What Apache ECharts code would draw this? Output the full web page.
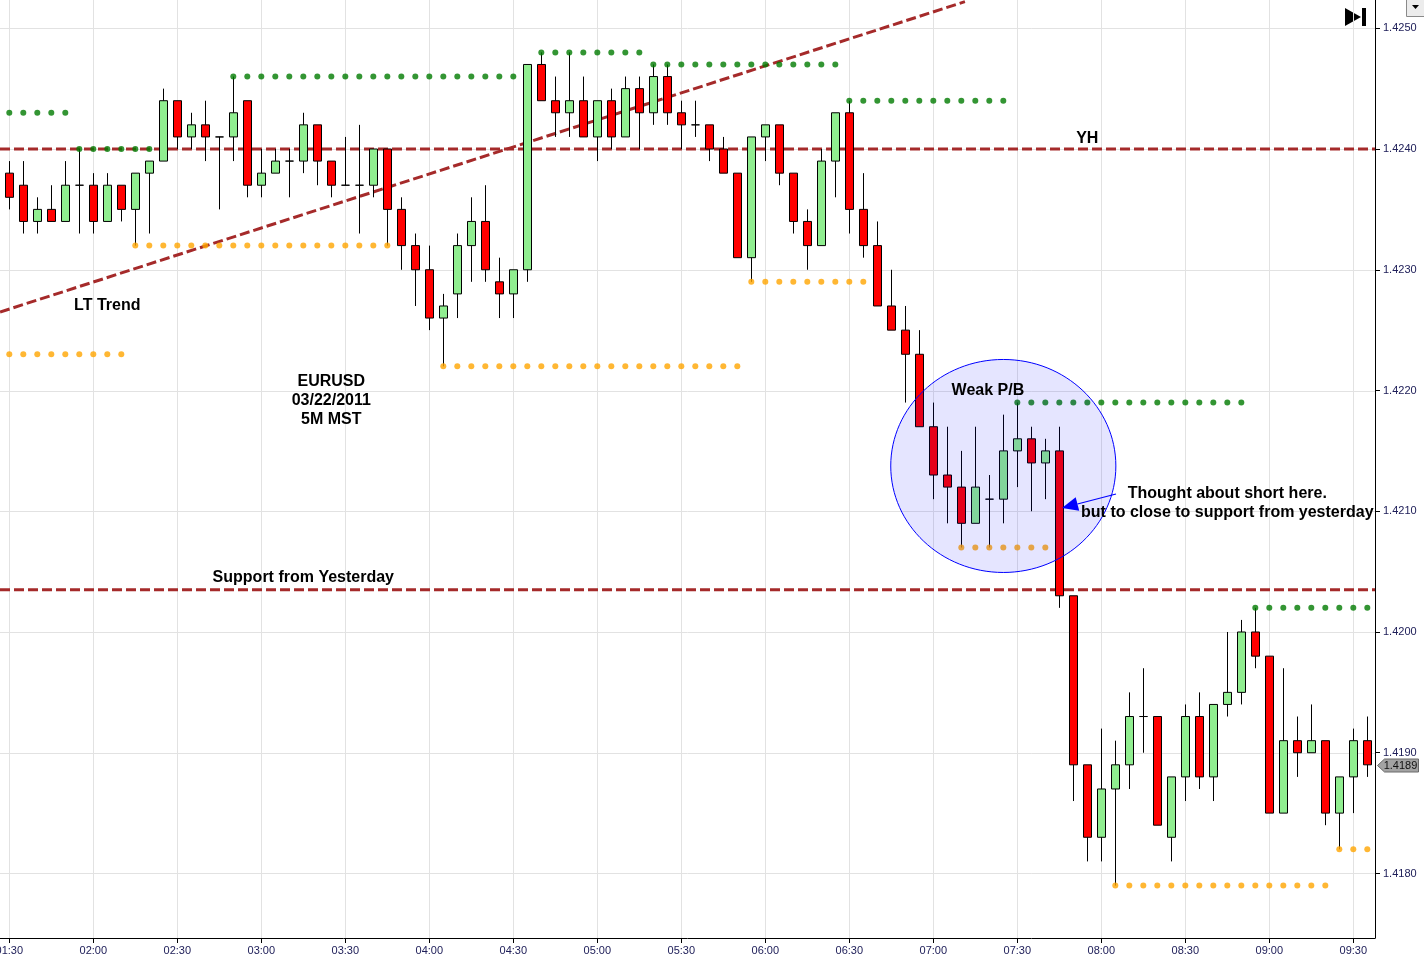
<!DOCTYPE html>
<html><head><meta charset="utf-8">
<script src="https://cdn.jsdelivr.net/npm/echarts@6/dist/echarts.min.js"></script>
<style>html,body{margin:0;padding:0;background:#fff;overflow:hidden}#c{width:1424px;height:960px}</style>
</head><body><div id="c"></div>
<script>
const N = null;
const timeLabels = ['01:30','02:00','02:30','03:00','03:30','04:00','04:30','05:00','05:30','06:00','06:30','07:00','07:30','08:00','08:30','09:00','09:30'];
const timeLabelIndex = [0,6,12,18,24,30,36,42,48,54,60,66,72,78,84,90,96];
const priceTicks = [1.4180,1.4190,1.4200,1.4210,1.4220,1.4230,1.4240,1.4250];

const opens = [
1.4238,1.4237,1.4234,1.4235,1.4234,1.4237,1.4237,1.4234,1.4237,1.4235,
1.4238,1.4239,1.4244,1.4241,1.4242,1.4241,1.4241,1.4244,1.4237,1.4238,
1.4239,1.4239,1.4242,1.4239,1.4237,1.4237,1.4237,1.4240,1.4235,1.4232,
1.4230,1.4226,1.4228,1.4232,1.4234,1.4229,1.4228,1.4230,1.4247,1.4244,
1.4243,1.4244,1.4241,1.4244,1.4241,1.4245,1.4243,1.4246,1.4243,1.4242,
1.4242,1.4240,1.4238,1.4231,1.4241,1.4242,1.4238,1.4234,1.4232,1.4239,
1.4243,1.4235,1.4232,1.4227,1.4225,1.4223,1.4217,1.4213,1.4212,1.4209,
1.4211,1.4211,1.4215,1.4216,1.4214,1.4215,1.4203,1.4189,1.4183,1.4187,
1.4189,1.4193,1.4193,1.4183,1.4188,1.4193,1.4188,1.4194,1.4195,1.4200,
1.4198,1.4185,1.4191,1.4190,1.4191,1.4185,1.4188,1.4191];
const closes = [
1.4236,1.4234,1.4235,1.4234,1.4237,1.4237,1.4234,1.4237,1.4235,1.4238,
1.4239,1.4244,1.4241,1.4242,1.4241,1.4241,1.4243,1.4237,1.4238,1.4239,
1.4239,1.4242,1.4239,1.4237,1.4237,1.4237,1.4240,1.4235,1.4232,1.4230,
1.4226,1.4227,1.4232,1.4234,1.4230,1.4228,1.4230,1.4247,1.4244,1.4243,
1.4244,1.4241,1.4244,1.4241,1.4245,1.4243,1.4246,1.4243,1.4242,1.4242,
1.4240,1.4238,1.4231,1.4241,1.4242,1.4238,1.4234,1.4232,1.4239,1.4243,
1.4235,1.4232,1.4227,1.4225,1.4223,1.4217,1.4213,1.4212,1.4209,1.4212,
1.4211,1.4215,1.4216,1.4214,1.4215,1.4203,1.4189,1.4183,1.4187,1.4189,
1.4193,1.4193,1.4184,1.4188,1.4193,1.4188,1.4194,1.4195,1.4200,1.4198,
1.4185,1.4191,1.4190,1.4191,1.4185,1.4188,1.4191,1.4189];
const highs = [
1.4239,1.4239,1.4236,1.4237,1.4239,1.4240,1.4238,1.4238,1.4237,1.4238,
1.4239,1.4245,1.4244,1.4243,1.4244,1.4241,1.4246,1.4244,1.4240,1.4240,
1.4240,1.4243,1.4242,1.4239,1.4241,1.4242,1.4240,1.4240,1.4236,1.4233,
1.4232,1.4228,1.4233,1.4236,1.4237,1.4231,1.4230,1.4247,1.4248,1.4246,
1.4248,1.4246,1.4244,1.4245,1.4246,1.4246,1.4247,1.4247,1.4244,1.4244,
1.4242,1.4241,1.4238,1.4241,1.4242,1.4242,1.4238,1.4235,1.4240,1.4243,
1.4244,1.4238,1.4234,1.4230,1.4227,1.4225,1.4219,1.4217,1.4215,1.4217,
1.4213,1.4218,1.4219,1.4217,1.4216,1.4217,1.4203,1.4189,1.4192,1.4191,
1.4195,1.4197,1.4193,1.4188,1.4194,1.4195,1.4194,1.4200,1.4201,1.4202,
1.4198,1.4197,1.4193,1.4194,1.4191,1.4188,1.4192,1.4193];
const lows = [
1.4235,1.4233,1.4233,1.4234,1.4234,1.4233,1.4233,1.4234,1.4234,1.4232,
1.4233,1.4239,1.4240,1.4240,1.4239,1.4235,1.4239,1.4236,1.4236,1.4238,
1.4236,1.4238,1.4237,1.4236,1.4237,1.4233,1.4236,1.4232,1.4230,1.4227,
1.4225,1.4222,1.4226,1.4229,1.4229,1.4226,1.4226,1.4229,1.4244,1.4241,
1.4241,1.4241,1.4239,1.4240,1.4241,1.4240,1.4242,1.4242,1.4240,1.4241,
1.4239,1.4238,1.4231,1.4229,1.4239,1.4237,1.4233,1.4230,1.4232,1.4236,
1.4233,1.4231,1.4227,1.4225,1.4219,1.4217,1.4211,1.4209,1.4207,1.4209,
1.4207,1.4209,1.4212,1.4210,1.4211,1.4202,1.4186,1.4181,1.4181,1.4179,
1.4187,1.4190,1.4184,1.4181,1.4186,1.4187,1.4186,1.4193,1.4194,1.4197,
1.4185,1.4185,1.4188,1.4190,1.4184,1.4182,1.4185,1.4188];

// swing-high (green) and swing-low (orange) dotted levels, one value per candle
const resistance = [
1.4243,1.4243,1.4243,1.4243,1.4243,
1.4240,1.4240,1.4240,1.4240,1.4240,1.4240,
N,N,N,N,N,
1.4246,1.4246,1.4246,1.4246,1.4246,1.4246,1.4246,1.4246,1.4246,1.4246,1.4246,1.4246,1.4246,1.4246,1.4246,1.4246,1.4246,1.4246,1.4246,1.4246,1.4246,
N,
1.4248,1.4248,1.4248,1.4248,1.4248,1.4248,1.4248,1.4248,
1.4247,1.4247,1.4247,1.4247,1.4247,1.4247,1.4247,1.4247,1.4247,1.4247,1.4247,1.4247,1.4247,1.4247,
1.4244,1.4244,1.4244,1.4244,1.4244,1.4244,1.4244,1.4244,1.4244,1.4244,1.4244,1.4244,
1.4219,1.4219,1.4219,1.4219,1.4219,1.4219,1.4219,1.4219,1.4219,1.4219,1.4219,1.4219,1.4219,1.4219,1.4219,1.4219,1.4219,
1.4202,1.4202,1.4202,1.4202,1.4202,1.4202,1.4202,1.4202,1.4202];
const support = [
1.4223,1.4223,1.4223,1.4223,1.4223,1.4223,1.4223,1.4223,1.4223,
1.4232,1.4232,1.4232,1.4232,1.4232,1.4232,1.4232,1.4232,1.4232,1.4232,1.4232,1.4232,1.4232,1.4232,1.4232,1.4232,1.4232,1.4232,1.4232,
N,N,N,
1.4222,1.4222,1.4222,1.4222,1.4222,1.4222,1.4222,1.4222,1.4222,1.4222,1.4222,1.4222,1.4222,1.4222,1.4222,1.4222,1.4222,1.4222,1.4222,1.4222,1.4222,1.4222,
1.4229,1.4229,1.4229,1.4229,1.4229,1.4229,1.4229,1.4229,1.4229,
N,N,N,N,N,N,
1.4207,1.4207,1.4207,1.4207,1.4207,1.4207,1.4207,
N,N,N,N,
1.4179,1.4179,1.4179,1.4179,1.4179,1.4179,1.4179,1.4179,1.4179,1.4179,1.4179,1.4179,1.4179,1.4179,1.4179,1.4179,
1.4182,1.4182,1.4182];

const horizontalLevels = [1.4240, 1.42035];           // YH, support from yesterday
const trendLine = [[-0.66, 1.42265, 68.26, 1.42522]];  // LT trend (index, price) -> (index, price)
const pbEllipse = [[71, 1.421375, 8.04, 0.000882]];    // centre index, centre price, radius (candles), radius (price)
const noteArrow = [[79.05, 1.421143, 75.19, 1.421027]];
const noteTexts = ['LT Trend', 'EURUSD\n03/22/2011\n5M MST', 'YH', 'Support from Yesterday', 'Weak P/B', 'Thought about short here.\nbut to close to support from yesterday'];
const noteX = [7, 23, 77, 21, 69.9, 87];
const noteY = [1.422716, 1.42193, 1.4241, 1.42046, 1.42201, 1.42108];

const X_MIN = -0.664, X_MAX = 97.55, Y_MIN = 1.4174658, Y_MAX = 1.425234;
const FONT = '"Liberation Sans", Arial, sans-serif';

const candleData = opens.map((o, i) => [i, o, closes[i], lows[i], highs[i]]);
const resData = []; resistance.forEach((v, i) => { if (v != null) resData.push([i, v]); });
const supData = []; support.forEach((v, i) => { if (v != null) supData.push([i, v]); });

const chart = echarts.init(document.getElementById('c'));
chart.setOption({
  animation: false,
  backgroundColor: '#ffffff',
  grid: { left: 0, right: 49, top: 0, bottom: 22, containLabel: false, outerBoundsMode: 'none' },
  xAxis: {
    type: 'value', min: X_MIN, max: X_MAX,
    axisLine: { show: true, onZero: false, lineStyle: { color: '#000', width: 1 } },
    axisTick: { show: true, length: 5, customValues: timeLabelIndex, lineStyle: { color: '#000' } },
    axisLabel: { customValues: timeLabelIndex, margin: 7, fontSize: 11, fontFamily: FONT, color: '#20205a',
      formatter: v => timeLabels[timeLabelIndex.indexOf(Math.round(v))] || '' },
    splitLine: { show: false }
  },
  yAxis: {
    type: 'value', position: 'right', min: Y_MIN, max: Y_MAX, scale: true,
    axisLine: { show: true, onZero: false, lineStyle: { color: '#000', width: 1 } },
    axisTick: { show: true, length: 5, customValues: priceTicks, lineStyle: { color: '#000' } },
    axisLabel: { customValues: priceTicks, margin: 8, fontSize: 11, fontFamily: FONT, color: '#20205a',
      padding: [3, 0, 0, 0], formatter: v => v.toFixed(4) },
    splitLine: { show: false }
  },
  series: [
    { type: 'custom', z: 0, silent: true, data: timeLabelIndex.map(v => [v, Y_MIN]),
      renderItem: (p, api) => { const pt = api.coord([api.value(0), api.value(1)]); const cs = p.coordSys;
        return { type: 'line', shape: { x1: Math.round(pt[0]) + 0.5, y1: cs.y, x2: Math.round(pt[0]) + 0.5, y2: cs.y + cs.height }, style: { stroke: '#e2e2e2', lineWidth: 1 } }; } },
    { type: 'custom', z: 0, silent: true, data: priceTicks.map(v => [0, v]),
      renderItem: (p, api) => { const pt = api.coord([api.value(0), api.value(1)]); const cs = p.coordSys;
        return { type: 'line', shape: { x1: cs.x, y1: Math.round(pt[1]) + 0.5, x2: cs.x + cs.width, y2: Math.round(pt[1]) + 0.5 }, style: { stroke: '#e2e2e2', lineWidth: 1 } }; } },
    { type: 'custom', z: 1, silent: true, data: horizontalLevels.map(v => [0, v]),
      renderItem: (p, api) => { const pt = api.coord([api.value(0), api.value(1)]); const cs = p.coordSys;
        return { type: 'line', shape: { x1: cs.x, y1: pt[1], x2: cs.x + cs.width, y2: pt[1] }, style: { stroke: '#A52A2A', lineWidth: 3, lineDash: [10, 4] } }; } },
    { type: 'custom', z: 1, silent: true, data: trendLine,
      renderItem: (p, api) => { const a = api.coord([api.value(0), api.value(1)]); const b = api.coord([api.value(2), api.value(3)]);
        return { type: 'line', shape: { x1: a[0], y1: a[1], x2: b[0], y2: b[1] }, style: { stroke: '#A52A2A', lineWidth: 3, lineDash: [10, 4] } }; } },
    { type: 'candlestick', z: 2, data: candleData, barWidth: 9, encode: { x: 0, y: [1, 2, 3, 4] },
      itemStyle: { color: '#90EE90', color0: '#FF0000', borderColor: '#000', borderColor0: '#000', borderColorDoji: '#000', borderWidth: 1 } },
    { type: 'scatter', z: 3, data: resData, symbol: 'circle', symbolSize: 6, itemStyle: { color: '#007a00' }, silent: true },
    { type: 'scatter', z: 3, data: supData, symbol: 'circle', symbolSize: 6, itemStyle: { color: '#FFA500' }, silent: true },
    { type: 'custom', z: 4, silent: true, data: pbEllipse,
      renderItem: (p, api) => { const c = api.coord([api.value(0), api.value(1)]); const s = api.size([api.value(2), api.value(3)]);
        return { type: 'ellipse', shape: { cx: c[0], cy: c[1], rx: s[0], ry: s[1] }, style: { fill: 'rgba(0,0,255,0.1)', stroke: '#0000FF', lineWidth: 1 } }; } },
    { type: 'custom', z: 5, silent: true, data: noteArrow,
      renderItem: (p, api) => { const a = api.coord([api.value(0), api.value(1)]); const b = api.coord([api.value(2), api.value(3)]);
        const dx = b[0] - a[0], dy = b[1] - a[1], L = Math.sqrt(dx * dx + dy * dy), ux = dx / L, uy = dy / L;
        const hl = 16, hw = 7, bx = b[0] - ux * hl, by = b[1] - uy * hl;
        return { type: 'group', children: [
          { type: 'line', shape: { x1: a[0], y1: a[1], x2: bx, y2: by }, style: { stroke: '#0000FF', lineWidth: 1.2 } },
          { type: 'polygon', shape: { points: [[b[0], b[1]], [bx - uy * hw, by + ux * hw], [bx + uy * hw, by - ux * hw]] }, style: { fill: '#0000FF' } }
        ] }; } },
    { type: 'custom', z: 6, silent: true, data: noteX.map((x, i) => [x, noteY[i]]),
      renderItem: (p, api) => { const c = api.coord([api.value(0), api.value(1)]);
        return { type: 'text', x: c[0], y: c[1] + 1.5, style: { text: noteTexts[p.dataIndex], fontSize: 16, fontWeight: 'bold', fontFamily: FONT, fill: '#000', align: 'center', verticalAlign: 'middle', lineHeight: 18.7 } }; } },
    { type: 'custom', z: 6, silent: true, data: [[X_MAX, closes[closes.length - 1]]],
      renderItem: (p, api) => { const c = api.coord([api.value(0), api.value(1)]); const x0 = c[0] + 2.5, y = Math.round(c[1]) + 0.5;
        return { type: 'group', children: [
          { type: 'polygon', shape: { points: [[x0, y], [x0 + 7, y - 6.5], [x0 + 41, y - 6.5], [x0 + 41, y + 6.5], [x0 + 7, y + 6.5]] }, style: { fill: '#a3a3a3', stroke: '#6a6a6a', lineWidth: 1 } },
          { type: 'text', x: x0 + 23, y: y, style: { text: api.value(1).toFixed(4), fontSize: 11, fontFamily: FONT, fill: '#111', align: 'center', verticalAlign: 'middle' } }
        ] }; } }
  ],
  graphic: [
    { type: 'polygon', shape: { points: [[1345, 8], [1345, 26], [1361, 17]] }, style: { fill: '#000' } },
    { type: 'rect', shape: { x: 1362, y: 8, width: 4, height: 18 }, style: { fill: '#000' } },
    { type: 'rect', shape: { x: 1406.5, y: -1, width: 18, height: 17.5 }, style: { fill: '#ececec', stroke: '#8a8a8a', lineWidth: 1 } },
    { type: 'polygon', shape: { points: [[1412, 5], [1419, 5], [1415.5, 9]] }, style: { fill: '#000' } }
  ]
});
</script></body></html>
